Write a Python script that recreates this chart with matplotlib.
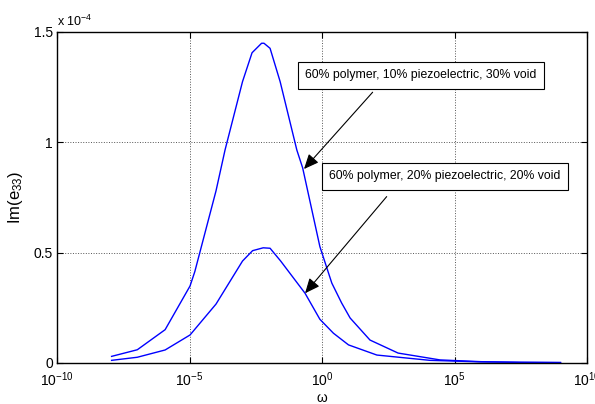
import matplotlib
matplotlib.use("Agg")
import matplotlib.pyplot as plt
import numpy as np

plt.rcParams['font.family'] = ['Liberation Sans', 'DejaVu Sans']
plt.rcParams['mathtext.fontset'] = 'custom'
plt.rcParams['mathtext.rm'] = 'Liberation Sans'
plt.rcParams['mathtext.it'] = 'Liberation Sans:italic'

# log10(omega) and Im(e33) in units of 1e-4
logw_a = [-7.94, -6.97, -5.92, -4.98, -4.8, -4.0, -3.66, -3.0, -2.64, -2.28,
          -2.19, -1.96, -1.58, -0.95, -0.73, -0.08, 0.37, 0.74, 1.06, 1.81,
          2.87, 4.45, 6.0, 7.5, 9.0]
val_a = [0.030, 0.060, 0.151, 0.349, 0.414, 0.78, 0.965, 1.275, 1.406, 1.449,
         1.449, 1.426, 1.275, 0.965, 0.884, 0.527, 0.362, 0.272, 0.204, 0.104,
         0.045, 0.014, 0.006, 0.003, 0.002]

logw_b = [-7.94, -6.97, -5.92, -4.98, -4.0, -3.0, -2.62, -2.22, -1.96, -1.56,
          -0.64, -0.08, 0.43, 1.0, 2.07, 4.07, 6.0, 7.5, 9.0]
val_b = [0.012, 0.026, 0.059, 0.127, 0.267, 0.462, 0.509, 0.522, 0.520, 0.462,
         0.316, 0.198, 0.135, 0.082, 0.036, 0.012, 0.005, 0.003, 0.002]

label_a = "60% polymer, 10% piezoelectric, 30% void"
label_b = "60% polymer, 20% piezoelectric, 20% void"

fig = plt.figure(figsize=(5.95, 4.04), dpi=100)
ax = fig.add_axes([0.0958, 0.1015, 0.8908, 0.8193])

w_a = 10.0 ** np.array(logw_a)
w_b = 10.0 ** np.array(logw_b)
ax.plot(w_a, val_a, color='#0000ff', lw=1.0)
ax.plot(w_b, val_b, color='#0000ff', lw=1.0)

ax.set_xscale('log')
ax.set_xlim(1e-10, 1e10)
ax.set_ylim(0, 1.5)
ax.set_xticks([1e-10, 1e-5, 1e0, 1e5, 1e10])
ax.set_xticklabels([r'$10^{-10}$', r'$10^{-5}$', r'$10^{0}$', r'$10^{5}$', r'$10^{10}$'])
ax.minorticks_off()
ax.set_yticks([0, 0.5, 1, 1.5])
ax.set_yticklabels(['0', '0.5', '1', '1.5'])
ax.tick_params(direction='in', top=True, right=True, length=4, width=0.8,
               labelsize=10, pad=3)
ax.tick_params(axis='x', pad=5)
ax.grid(True, color='#555555', linestyle=':', linewidth=0.7)
for s in ax.spines.values():
    s.set_linewidth(1.0)

ax.text(0.0, 1.01, r'x $10^{-4}$', transform=ax.transAxes, fontsize=9,
        ha='left', va='bottom')

ax.set_xlabel('ω', fontsize=10, va='center')
ax.xaxis.set_label_coords(0.5, -0.106)
ax.set_ylabel(r'Im(e$_{33}$)', fontsize=12, labelpad=6)

box = dict(boxstyle='square,pad=0.6', fc='white', ec='black', lw=0.8)
ax.text(10 ** 3.72, 1.303, label_a, fontsize=8.8, ha='center', va='center', bbox=box)
ax.text(10 ** 4.63, 0.846, label_b, fontsize=8.8, ha='center', va='center', bbox=box)

arrow = dict(arrowstyle='-|>,head_length=0.5,head_width=0.22', color='black',
             lw=0.8, mutation_scale=18, shrinkA=0, shrinkB=0)
ax.annotate('', xy=(10 ** -0.68, 0.879), xytext=(10 ** 1.91, 1.227), arrowprops=arrow)
ax.annotate('', xy=(10 ** -0.64, 0.316), xytext=(10 ** 2.44, 0.754), arrowprops=arrow)

fig.savefig('out.png', dpi=100)
